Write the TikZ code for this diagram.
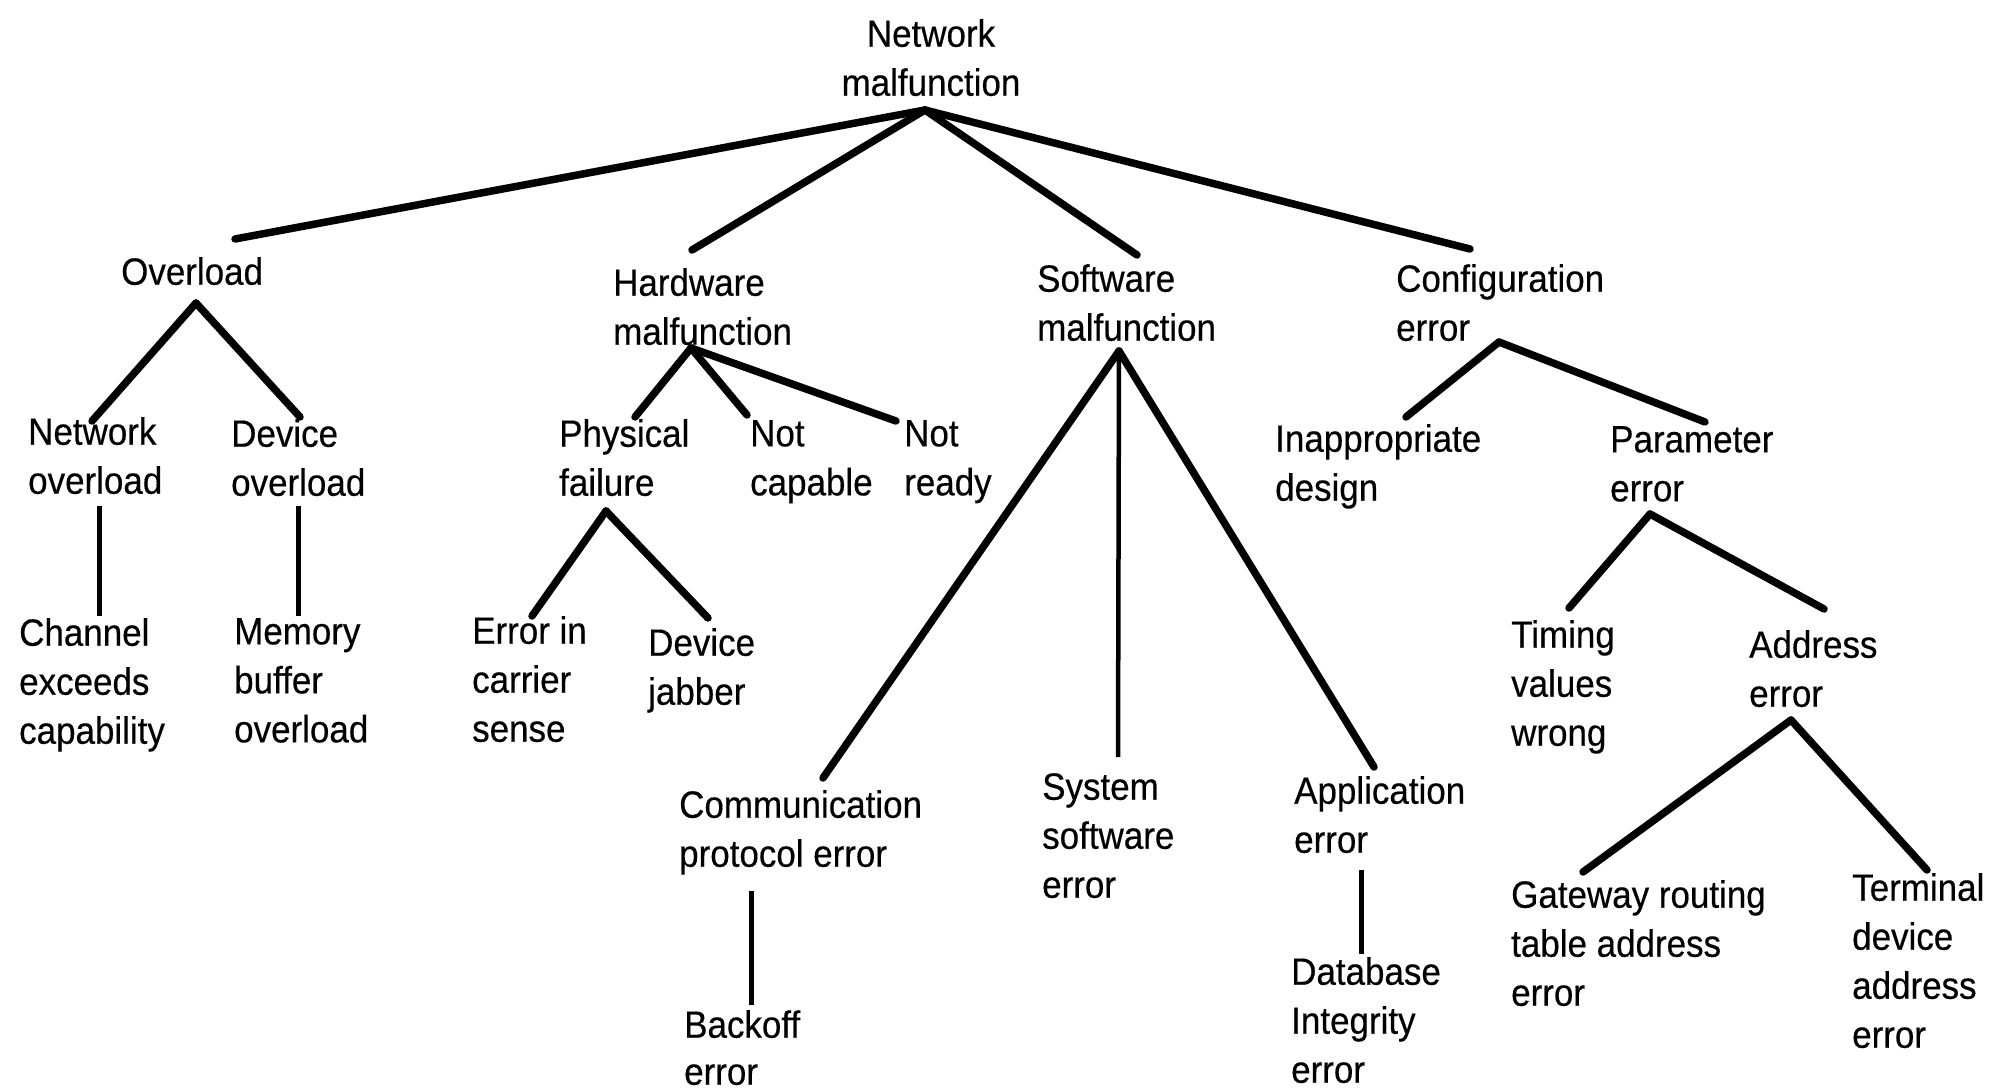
\documentclass[tikz,border=0pt]{standalone}
\usepackage{fontspec}
\setmainfont{Liberation Sans}[FakeStretch=0.92,FakeBold=0.4]
\begin{document}
\begin{tikzpicture}[x=1pt,y=-1pt,
  lbl/.style={anchor=north west,inner sep=0pt,align=left,font=\fontsize{38}{49}\selectfont},
  conn/.style={line width=7.5pt,line cap=round},
  vconn/.style={line width=5pt,line cap=butt}]
\fill[white] (0,0) rectangle (1998,1090);
\useasboundingbox (0,0) rectangle (1998,1090);
% nodes
\node[lbl,anchor=north,align=center] (root) at (931,19) {Network\\malfunction};
\node[lbl] (ov) at (121,257) {Overload};
\node[lbl] (hw) at (613,268) {Hardware\\malfunction};
\node[lbl] (sw) at (1037,264) {Software\\malfunction};
\node[lbl] (cf) at (1396,264) {Configuration\\error};
\node[lbl] (no) at (28,417) {Network\\overload};
\node[lbl] (dov) at (231,419) {Device\\overload};
\node[lbl] (pf) at (559,419) {Physical\\failure};
\node[lbl] (nc) at (750,420) {Not\\capable};
\node[lbl] (nr) at (904,420) {Not\\ready};
\node[lbl] (ch) at (19,618) {Channel\\exceeds\\capability};
\node[lbl] (mb) at (234,618) {Memory\\buffer\\overload};
\node[lbl] (ec) at (472,616) {Error in\\carrier\\sense};
\node[lbl] (dj) at (648,628) {Device\\jabber};
\node[lbl] (cp) at (679,790) {Communication\\protocol error};
\node[lbl,font=\fontsize{38}{47}\selectfont] (bo) at (684,1010) {Backoff\\error};
\node[lbl] (ss) at (1042,773) {System\\software\\error};
\node[lbl] (ae) at (1294,776) {Application\\error};
\node[lbl] (db) at (1291,957) {Database\\Integrity\\error};
\node[lbl] (id) at (1275,424) {Inappropriate\\design};
\node[lbl] (pe) at (1610,426) {Parameter\\error};
\node[lbl] (tv) at (1511,620) {Timing\\values\\wrong};
\node[lbl] (ad) at (1749,630) {Address\\error};
\node[lbl] (gw) at (1511,880) {Gateway routing\\table address\\error};
\node[lbl] (td) at (1852,873) {Terminal\\device\\address\\error};
% connector points
\coordinate (root-j) at (925,110);
\coordinate (ov-t) at (235,239);
\coordinate (hw-t) at (692,250);
\coordinate (sw-t) at (1137,255);
\coordinate (cf-t) at (1470,249);
\coordinate (ov-j) at (196,303);
\coordinate (no-t) at (92,421);
\coordinate (dov-t) at (300,417);
\coordinate (no-b) at (99,506);
\coordinate (ch-t) at (99,616);
\coordinate (dov-b) at (298.5,506);
\coordinate (mb-t) at (298.5,616);
\coordinate (hw-j) at (691,348);
\coordinate (pf-t) at (635,417);
\coordinate (nc-t) at (747,415);
\coordinate (nr-t) at (896,421);
\coordinate (pf-j) at (606,511);
\coordinate (ec-t) at (532,616);
\coordinate (dj-t) at (708,618);
\coordinate (sw-j) at (1119,351);
\coordinate (cp-t) at (823,778);
\coordinate (ss-t) at (1118,757);
\coordinate (ae-t) at (1374,767);
\coordinate (cp-b) at (751,891);
\coordinate (bo-t) at (751,1005);
\coordinate (ae-b) at (1361,870);
\coordinate (db-t) at (1361,954);
\coordinate (cf-j) at (1499,342);
\coordinate (id-t) at (1406,417);
\coordinate (pe-t) at (1705,422);
\coordinate (pe-j) at (1650,514);
\coordinate (tv-t) at (1569,608);
\coordinate (ad-t) at (1824,609);
\coordinate (ad-j) at (1791,720);
\coordinate (gw-t) at (1583,872);
\coordinate (td-t) at (1927,870);
% connectors
\draw[conn] (root-j) -- (ov-t);
\draw[conn] (root-j) -- (hw-t);
\draw[conn] (root-j) -- (sw-t);
\draw[conn] (root-j) -- (cf-t);
\draw[conn] (ov-j) -- (no-t);
\draw[conn] (ov-j) -- (dov-t);
\draw[vconn] (no-b) -- (ch-t);
\draw[vconn] (dov-b) -- (mb-t);
\draw[conn] (hw-j) -- (pf-t);
\draw[conn] (hw-j) -- (nc-t);
\draw[conn] (hw-j) -- (nr-t);
\draw[conn] (pf-j) -- (ec-t);
\draw[conn] (pf-j) -- (dj-t);
\draw[conn] (sw-j) -- (cp-t);
\draw[vconn,line width=4.5pt] (sw-j) -- (ss-t);
\draw[conn] (sw-j) -- (ae-t);
\draw[vconn] (cp-b) -- (bo-t);
\draw[vconn] (ae-b) -- (db-t);
\draw[conn] (cf-j) -- (id-t);
\draw[conn] (cf-j) -- (pe-t);
\draw[conn] (pe-j) -- (tv-t);
\draw[conn] (pe-j) -- (ad-t);
\draw[conn] (ad-j) -- (gw-t);
\draw[conn] (ad-j) -- (td-t);
\end{tikzpicture}
\end{document}
